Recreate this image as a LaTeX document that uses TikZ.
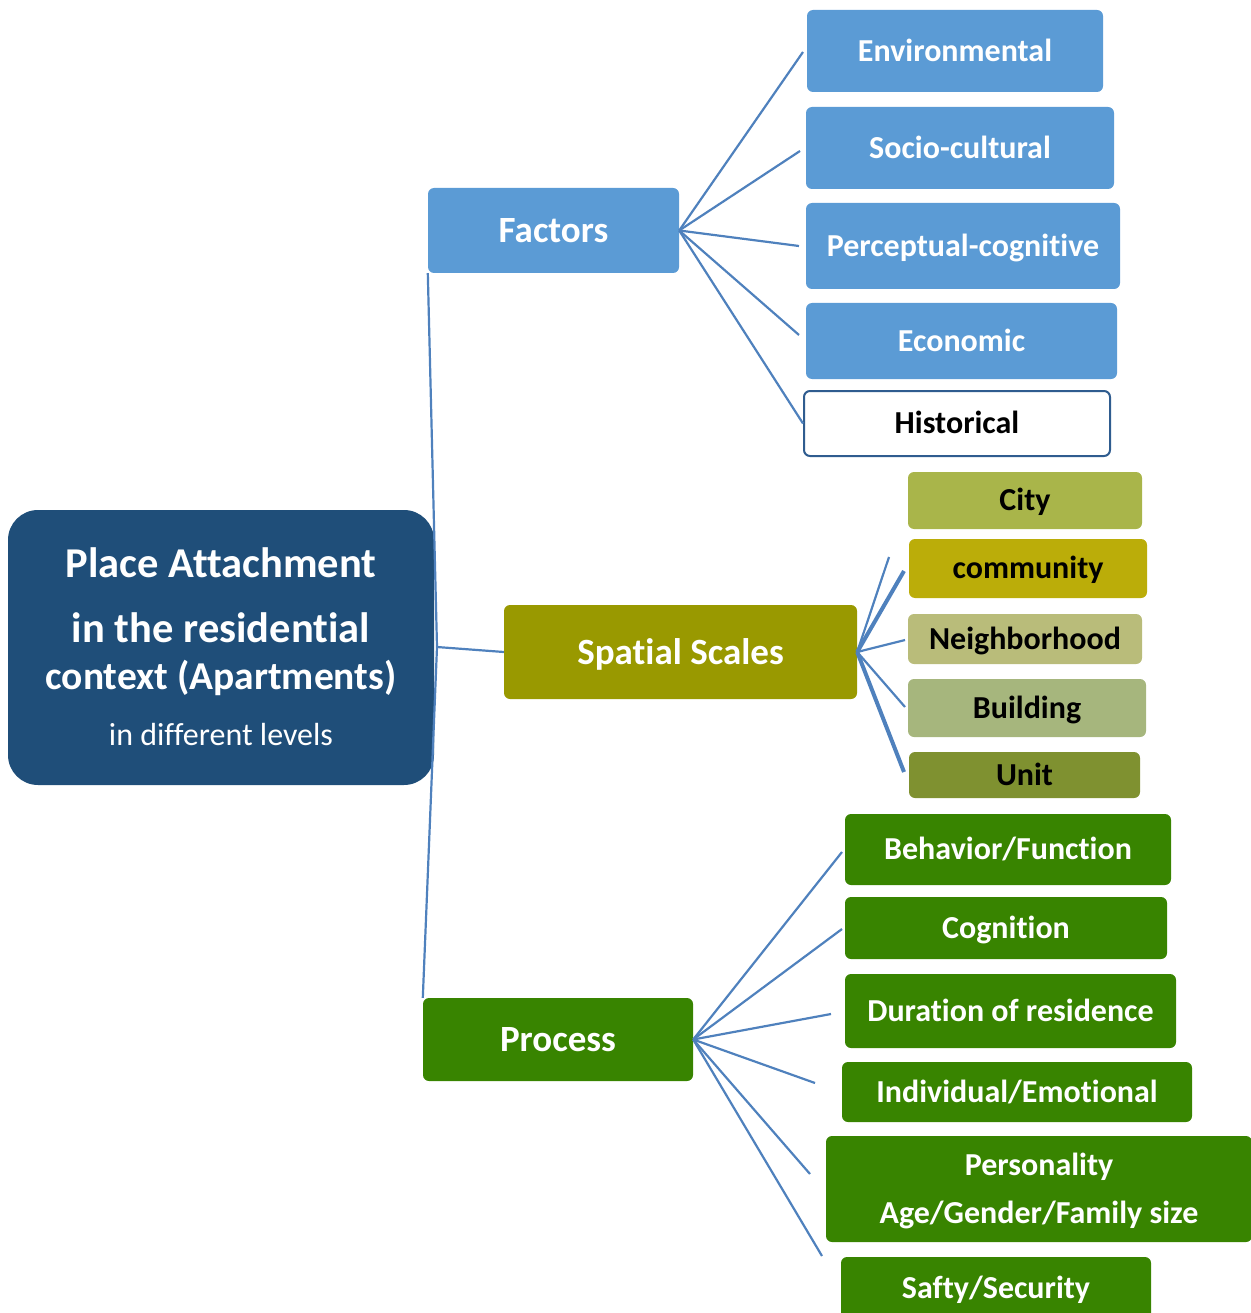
\documentclass[tikz,border=0pt]{standalone}
\usepackage{fontspec}
\setmainfont{Carlito}[Ligatures={NoCommon}]
\definecolor{mainblue}{HTML}{1F4E79}
\definecolor{lblue}{HTML}{5B9BD5}
\definecolor{linecol}{HTML}{4F81BD}
\definecolor{histborder}{HTML}{2F5C8F}
\definecolor{olive}{HTML}{999900}
\definecolor{cityc}{HTML}{A9B54A}
\definecolor{commc}{HTML}{BBAD09}
\definecolor{nbhc}{HTML}{B9BC7A}
\definecolor{bldc}{HTML}{A6B67D}
\definecolor{unitc}{HTML}{7F9130}
\definecolor{procgreen}{HTML}{388400}
\begin{document}
\begin{tikzpicture}[x=1pt,y=-1pt,
  anybox/.style={rectangle,rounded corners=6pt,inner sep=0pt},
  parentbox/.style={anybox,font=\bfseries\fontsize{37}{42}\selectfont,text=white,text height=24pt,text depth=0pt},
  childbox/.style={anybox,font=\bfseries\fontsize{32}{36}\selectfont,text height=20.6pt,text depth=0pt},
  bluechild/.style={childbox,fill=lblue,text=white},
  olivechild/.style={childbox,text=black},
  greenchild/.style={childbox,fill=procgreen,text=white},
  plaintext/.style={inner sep=0pt,anchor=base,text=white},
  conn/.style={draw=linecol,line width=2.2pt},
  thickconn/.style={draw=linecol,line width=4pt}
]
\useasboundingbox (0,0) rectangle (1250,1313);

% main node
\node[rectangle,rounded corners=30pt,fill=mainblue,minimum width=426pt,minimum height=275pt,inner sep=0pt] (main) at (221,647.5) {};
\node[plaintext,font=\bfseries\fontsize{42.5}{46}\selectfont] (mt1) at (221,577) {Place Attachment};
\node[plaintext,font=\bfseries\fontsize{42.5}{46}\selectfont] (mt2) at (221,642) {in the residential};
\node[plaintext,font=\bfseries\fontsize{39.5}{44}\selectfont] (mt3) at (221,689) {context (Apartments)};
\node[plaintext,font=\fontsize{32}{36}\selectfont] (mt4) at (221,745) {in different levels};

% parents
\node[parentbox,fill=lblue,minimum width=251pt,minimum height=85pt] (factors) at (553.5,230.5) {Factors};
\node[parentbox,fill=olive,minimum width=353pt,minimum height=94pt] (ss) at (680.5,652) {Spatial Scales};
\node[parentbox,fill=procgreen,minimum width=270pt,minimum height=83pt] (process) at (558,1039.5) {Process};

% factor children
\node[bluechild,minimum width=296pt,minimum height=82pt] (env) at (955,51) {Environmental};
\node[bluechild,minimum width=308pt,minimum height=82pt] (soc) at (960,148) {Socio-cultural};
\node[bluechild,minimum width=314pt,minimum height=86pt] (per) at (963,246) {Perceptual-cognitive};
\node[bluechild,minimum width=311pt,minimum height=76pt] (eco) at (961.5,341) {Economic};
\node[childbox,fill=white,draw=histborder,line width=2pt,text=black,minimum width=306pt,minimum height=65pt] (his) at (957,423.5) {Historical};

% spatial children
\node[olivechild,fill=cityc,minimum width=234pt,minimum height=57pt] (city) at (1025,500.5) {City};
\node[olivechild,fill=commc,minimum width=238pt,minimum height=59pt] (comm) at (1028,568.5) {community};
\node[olivechild,fill=nbhc,minimum width=234pt,minimum height=50pt] (nbh) at (1025,639) {Neighborhood};
\node[olivechild,fill=bldc,minimum width=238pt,minimum height=58pt] (bld) at (1027,708) {Building};
\node[olivechild,fill=unitc,minimum width=231pt,minimum height=46pt] (unit) at (1024.5,775) {Unit};

% process children
\node[greenchild,minimum width=326pt,minimum height=71pt] (beh) at (1008,849.5) {Behavior/Function};
\node[greenchild,minimum width=322pt,minimum height=62pt] (cog) at (1006,928) {Cognition};
\node[greenchild,minimum width=331pt,minimum height=74pt] (dur) at (1010.5,1011) {Duration of residence};
\node[greenchild,minimum width=350pt,minimum height=60pt] (ind) at (1017,1092) {Individual/Emotional};
\node[anybox,fill=procgreen,minimum width=426pt,minimum height=106pt] (pers) at (1039,1189) {};
\node[plaintext,font=\bfseries\fontsize{32}{36}\selectfont] (pers1) at (1039,1175) {Personality};
\node[plaintext,font=\bfseries\fontsize{32}{36}\selectfont] (pers2) at (1039,1223) {Age/Gender/Family size};
\node[greenchild,minimum width=310pt,minimum height=62pt] (saf) at (996,1288) {Safty/Security};

% trunk
\coordinate (hub) at (437,647);
\draw[conn] (factors.south west) -- (hub) -- (process.north west);
\draw[conn] (hub) -- (ss.west);

% factor fan
\coordinate (f1) at (803,52);
\coordinate (f2) at (800,151);
\coordinate (f3) at (799,246);
\coordinate (f4) at (799,335);
\draw[conn] (factors.east) -- (f1);
\draw[conn] (factors.east) -- (f2);
\draw[conn] (factors.east) -- (f3);
\draw[conn] (factors.east) -- (f4);
\draw[conn] (factors.east) -- (his.west);

% spatial fan
\coordinate (s1) at (889,557);
\coordinate (s2) at (904,571);
\coordinate (s3) at (905,640);
\coordinate (s4) at (905,707);
\coordinate (s5) at (904,772);
\draw[conn] (ss.east) -- (s1);
\draw[thickconn] (ss.east) -- (s2);
\draw[conn] (ss.east) -- (s3);
\draw[conn] (ss.east) -- (s4);
\draw[thickconn] (ss.east) -- (s5);

% process fan
\coordinate (p1) at (842,852);
\coordinate (p2) at (842,929);
\coordinate (p3) at (831,1014);
\coordinate (p4) at (815,1083);
\coordinate (p5) at (810,1174);
\coordinate (p6) at (822,1256);
\foreach \e in {p1,p2,p3,p4,p5,p6} \draw[conn] (process.east) -- (\e);
\end{tikzpicture}
\end{document}
